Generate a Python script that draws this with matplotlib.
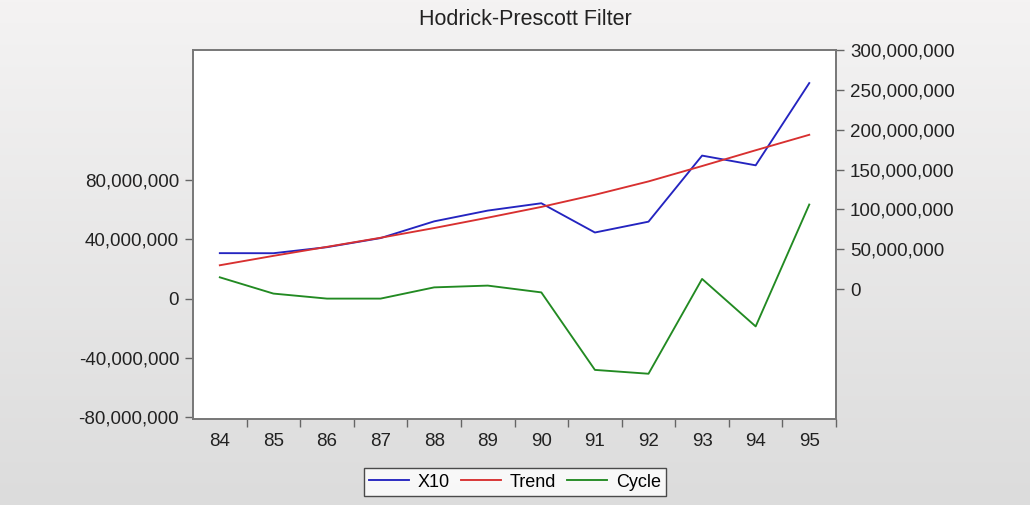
import matplotlib
matplotlib.use("Agg")
import matplotlib.pyplot as plt
import numpy as np
from matplotlib.ticker import FuncFormatter

years = [84, 85, 86, 87, 88, 89, 90, 91, 92, 93, 94, 95]
x10 = [45.1e6, 45.0e6, 52.6e6, 64.0e6, 85.0e6, 98.5e6, 107.7e6, 71.0e6, 84.6e6, 167.5e6, 155.3e6, 258.5e6]
trend = [29.9e6, 41.7e6, 53.0e6, 64.4e6, 76.6e6, 89.6e6, 103.1e6, 118.3e6, 135.1e6, 154.4e6, 174.2e6, 193.6e6]
cycle = [14.4e6, 3.4e6, 0.0e6, 0.0e6, 7.6e6, 8.8e6, 4.2e6, -48.2e6, -50.8e6, 13.3e6, -18.8e6, 63.6e6]
left_ticks = [-80e6, -40e6, 0, 40e6, 80e6]
right_ticks = [0, 50e6, 100e6, 150e6, 200e6, 250e6, 300e6]

plt.rcParams['font.family'] = ['Liberation Sans', 'DejaVu Sans']

fig = plt.figure(figsize=(10.30, 5.05), dpi=100)

# background gradient
bg = fig.add_axes([0, 0, 1, 1], zorder=-10)
grad = np.linspace(0, 1, 256).reshape(-1, 1)
top_c = np.array([0.957, 0.953, 0.953])
bot_c = np.array([0.863, 0.863, 0.863])
img = top_c[None, None, :] * (1 - grad[:, :, None]) + bot_c[None, None, :] * grad[:, :, None]
bg.imshow(img, aspect='auto', extent=[0, 1, 0, 1])
bg.set_axis_off()

ax = fig.add_axes([0.1874, 0.1703, 0.6243, 0.7307])
ax.set_facecolor('white')
ax2 = ax.twinx()

c_blue = '#2424c0'
c_red = '#d83030'
c_green = '#228a22'

l1, = ax2.plot(years, x10, color=c_blue, lw=1.35, label='X10')
l2, = ax2.plot(years, trend, color=c_red, lw=1.35, label='Trend')
l3, = ax.plot(years, cycle, color=c_green, lw=1.35, label='Cycle')

ax.set_xlim(83.5, 95.5)
ax.set_ylim(-81.4e6, 168.1e6)
ax2.set_ylim(-163e6, 300e6)

fmt = FuncFormatter(lambda v, p: f"{v:,.0f}")
ax.set_yticks(left_ticks)
ax.yaxis.set_major_formatter(fmt)
ax2.set_yticks(right_ticks)
ax2.yaxis.set_major_formatter(fmt)

ax.set_xticks(years)
ax.set_xticklabels([str(y) for y in years])
ax.set_xticks(np.arange(84.5, 95.6, 1.0), minor=True)
ax.tick_params(axis='x', which='major', length=0, pad=10, labelsize=13.5, colors='#222222')
ax.tick_params(axis='x', which='minor', length=6, width=1, color='#666666', direction='out')
ax.tick_params(axis='y', length=6, width=1, color='#666666', labelsize=13.5, labelcolor='#222222', pad=4)
ax2.tick_params(axis='y', length=6, width=1, color='#666666', labelsize=13.5, labelcolor='#222222', pad=4)

for a in (ax, ax2):
    for s in a.spines.values():
        s.set_color('#777777')
        s.set_linewidth(1.2)

fig.text(0.5097, 0.962, 'Hodrick-Prescott Filter', ha='center', va='center',
         fontsize=15.5, color='#222222')

leg = fig.legend(handles=[l1, l2, l3], loc='center', bbox_to_anchor=(0.5, 0.0455),
                 ncol=3, frameon=True, fontsize=13, fancybox=False,
                 handlelength=2.2, handletextpad=0.5, columnspacing=0.6,
                 borderpad=0.3, edgecolor='#222222')
leg.get_frame().set_linewidth(1.0)
leg.get_frame().set_facecolor('white')

fig.savefig('out.png', dpi=100)
